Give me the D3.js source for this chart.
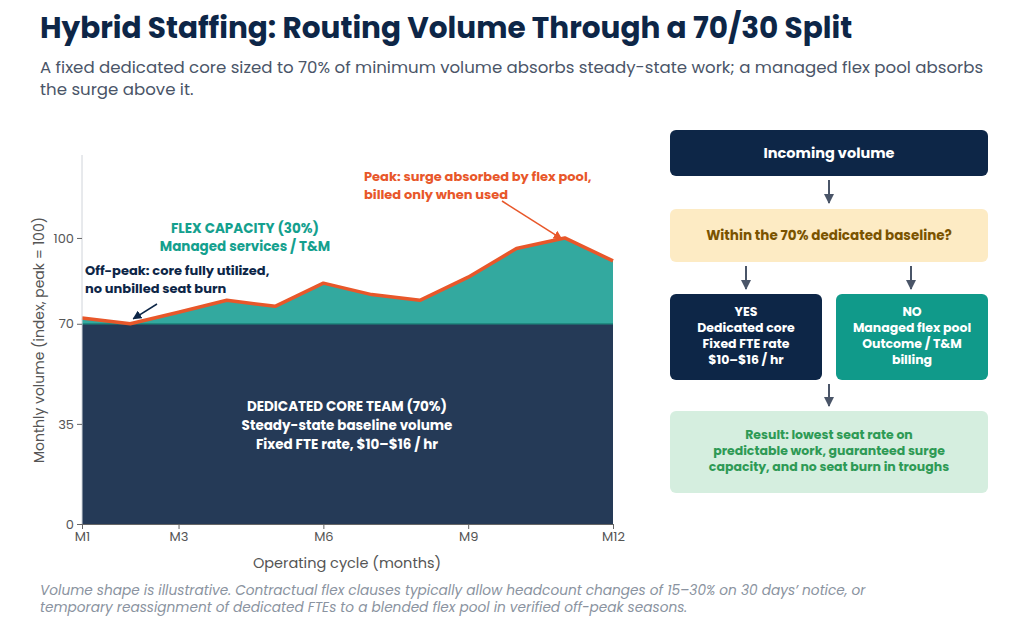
<!DOCTYPE html>
<html><head><meta charset="utf-8">
<script src="https://cdn.jsdelivr.net/npm/d3@7"></script>
<style>
body{margin:0;background:#fff;font-family:Poppins,Inter,"Noto Sans",sans-serif}
</style></head><body>
<svg id="c" width="1024" height="632"></svg>
<script>
var months = ["M1","M2","M3","M4","M5","M6","M7","M8","M9","M10","M11","M12"]
var volume = [72, 70, 74, 78.2, 76.1, 84.2, 80.2, 78.2, 86.3, 96.3, 100, 92]
var baseline = 70
var yTicks = [0, 35, 70, 100]
var xTickLabels = ["M1","M3","M6","M9","M12"]

var svg = d3.select("#c")
var navy = "#0d2647"

svg.append("text").attr("x",40).attr("y",38).attr("font-size",29.5).attr("font-weight",700)
  .attr("fill",navy).text("Hybrid Staffing: Routing Volume Through a 70/30 Split")
svg.append("text").attr("x",40).attr("y",73).attr("font-size",16.6).attr("fill","#4a5568")
  .text("A fixed dedicated core sized to 70% of minimum volume absorbs steady-state work; a managed flex pool absorbs")
svg.append("text").attr("x",40).attr("y",95).attr("font-size",16.6).attr("fill","#4a5568").text("the surge above it.")

// chart
var x = d3.scalePoint().domain(months).range([82,613])
var y = d3.scaleLinear().domain([0,129]).range([524,155])

var g = svg.append("g")
g.append("path").datum(volume)
  .attr("fill","#33a99f")
  .attr("d", d3.area().x(function(d,i){return x(months[i])}).y0(y(0)).y1(function(d){return y(d)}))
g.append("path").datum(volume)
  .attr("fill","#253a57")
  .attr("d", d3.area().x(function(d,i){return x(months[i])}).y0(y(0)).y1(function(d){return y(Math.min(d,baseline))}))
g.append("line").attr("x1",x("M1")).attr("x2",x("M12")).attr("y1",y(baseline)).attr("y2",y(baseline))
  .attr("stroke","#1f8a80").attr("stroke-width",1.5)
g.append("path").datum(volume).attr("fill","none").attr("stroke","#e8572a").attr("stroke-width",3.5)
  .attr("stroke-linejoin","round")
  .attr("d", d3.line().x(function(d,i){return x(months[i])}).y(function(d){return y(d)}))

var ya = svg.append("g").attr("transform","translate(82,0)")
  .call(d3.axisLeft(y).tickValues(yTicks).tickSize(5))
ya.select(".domain").attr("stroke","#d0d4da").attr("d","M0,155V524")
ya.selectAll(".tick line").attr("stroke","#666")
ya.selectAll("text").attr("font-size",13).attr("fill","#555").attr("font-family","Poppins,Inter,sans-serif")

var xa = svg.append("g").attr("transform","translate(0,524)")
  .call(d3.axisBottom(x).tickValues(xTickLabels).tickSize(5))
xa.select(".domain").attr("stroke","#666")
xa.selectAll(".tick line").attr("stroke","#666")
xa.selectAll("text").attr("font-size",13).attr("fill","#555").attr("font-family","Poppins,Inter,sans-serif")

svg.append("text").attr("transform","translate(44,340) rotate(-90)").attr("text-anchor","middle")
  .attr("font-size",14).attr("fill","#555").text("Monthly volume (index, peak = 100)")
svg.append("text").attr("x",347).attr("y",568).attr("text-anchor","middle")
  .attr("font-size",14.5).attr("fill","#555").text("Operating cycle (months)")

function lines(xx, yy, arr, opt){
  arr.forEach(function(t,i){
    svg.append("text").attr("x",xx).attr("y",yy+i*(opt.lh||18)).attr("text-anchor",opt.anchor||"start")
      .attr("font-size",opt.size||13).attr("font-weight",opt.weight||700).attr("fill",opt.fill)
      .attr("font-style",opt.style||"normal").text(t)
  })
}
lines(245,233,["FLEX CAPACITY (30%)","Managed services / T&M"],{anchor:"middle",fill:"#14a08e",size:13.5})
lines(85,275,["Off-peak: core fully utilized,","no unbilled seat burn"],{fill:navy,size:13})
lines(364,181,["Peak: surge absorbed by flex pool,","billed only when used"],{fill:"#e8572a",size:13})
lines(347,411,["DEDICATED CORE TEAM (70%)","Steady-state baseline volume","Fixed FTE rate, $10\u2013$16 / hr"],{anchor:"middle",fill:"#fff",size:13.5,lh:19})

svg.append("defs").html('<marker id="an" viewBox="0 0 10 10" refX="9" refY="5" markerWidth="6" markerHeight="6" orient="auto"><path d="M0,0L10,5L0,10z" fill="#0d2647"/></marker>'+
 '<marker id="ao" viewBox="0 0 10 10" refX="9" refY="5" markerWidth="6" markerHeight="6" orient="auto"><path d="M0,0L10,5L0,10z" fill="#e8572a"/></marker>'+
 '<marker id="ag" viewBox="0 0 10 10" refX="9" refY="5" markerWidth="5" markerHeight="5" orient="auto"><path d="M0,0L10,5L0,10z" fill="#4a5568"/></marker>')
svg.append("line").attr("x1",157).attr("y1",304).attr("x2",x("M2")+3).attr("y2",y(70)-5)
  .attr("stroke",navy).attr("stroke-width",1.5).attr("marker-end","url(#an)")
svg.append("line").attr("x1",502).attr("y1",201).attr("x2",x("M11")-3).attr("y2",y(100)+1)
  .attr("stroke","#e8572a").attr("stroke-width",1.5).attr("marker-end","url(#ao)")

// flow
function box(x0,y0,w,h,fill){
  svg.append("rect").attr("x",x0).attr("y",y0).attr("width",w).attr("height",h).attr("rx",6).attr("fill",fill)
}
function arrow(xx,y0,y1){
  svg.append("line").attr("x1",xx).attr("x2",xx).attr("y1",y0).attr("y2",y1)
    .attr("stroke","#4a5568").attr("stroke-width",2).attr("marker-end","url(#ag)")
}
box(670,130,318,46,navy)
lines(829,158,["Incoming volume"],{anchor:"middle",fill:"#fff",size:14.5})
arrow(829,180,203)
box(670,209,318,53,"#fdebc4")
lines(829,240,["Within the 70% dedicated baseline?"],{anchor:"middle",fill:"#7a5300",size:13.5})
arrow(746,266,289)
arrow(911,266,289)
box(670,294,152,86,navy)
lines(746,316,["YES","Dedicated core","Fixed FTE rate","$10\u2013$16 / hr"],{anchor:"middle",fill:"#fff",size:12.5,lh:16})
box(836,294,152,86,"#109a8a")
lines(912,316,["NO","Managed flex pool","Outcome / T&M","billing"],{anchor:"middle",fill:"#fff",size:12.5,lh:16})
arrow(829,384,406)
box(670,411,318,82,"#d5eedf")
lines(829,439,["Result: lowest seat rate on","predictable work, guaranteed surge","capacity, and no seat burn in troughs"],{anchor:"middle",fill:"#2e9a55",size:12.5,lh:16})

lines(40,595,["Volume shape is illustrative. Contractual flex clauses typically allow headcount changes of 15\u201330% on 30 days\u2019 notice, or",
 "temporary reassignment of dedicated FTEs to a blended flex pool in verified off-peak seasons."],{fill:"#8a93a0",size:13.7,weight:400,style:"italic",lh:17})
</script></body></html>
